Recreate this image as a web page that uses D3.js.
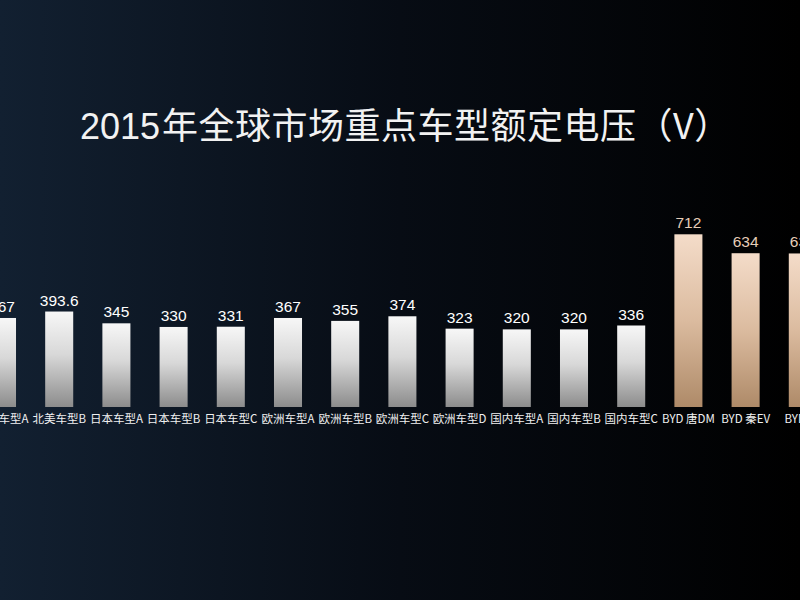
<!DOCTYPE html>
<html>
<head>
<meta charset="utf-8">
<script src="https://cdn.jsdelivr.net/npm/d3@7"></script>
<style>
  html, body { margin: 0; padding: 0; background: #000; }
  svg { display: block; }
</style>
</head>
<body>
<div id="chart"></div>
<script>
// chart data
const categories = ["北美车型A", "北美车型B", "日本车型A", "日本车型B", "日本车型C",
  "欧洲车型A", "欧洲车型B", "欧洲车型C", "欧洲车型D", "国内车型A", "国内车型B",
  "国内车型C", "BYD 唐DM", "BYD 秦EV", "BYD e5"];
const voltages = [367, 393.6, 345, 330, 331, 367, 355, 374, 323, 320, 320, 336, 712, 634, 633];
const valueLabels = ["367", "393.6", "345", "330", "331", "367", "355", "374", "323", "320", "320", "336", "712", "634", "633"];
const titleYear = "2015";
const titleRest = "年全球市场重点车型额定电压（V）";

const width = 800, height = 600;
const baseY = 407;
const step = 57.2;

const data = categories.map((c, i) => ({name: c, value: voltages[i], label: valueLabels[i], byd: c.startsWith("BYD")}));

const svg = d3.select("#chart").append("svg")
  .attr("width", width)
  .attr("height", height);

const defs = svg.append("defs");

const bg = defs.append("linearGradient").attr("id", "bgGrad")
  .attr("x1", "0%").attr("y1", "0%").attr("x2", "100%").attr("y2", "0%");
bg.append("stop").attr("offset", "0%").attr("stop-color", "#122031");
bg.append("stop").attr("offset", "50%").attr("stop-color", "#070c14");
bg.append("stop").attr("offset", "100%").attr("stop-color", "#000000");

const whiteGrad = defs.append("linearGradient").attr("id", "whiteGrad")
  .attr("x1", "0%").attr("y1", "0%").attr("x2", "0%").attr("y2", "100%");
whiteGrad.append("stop").attr("offset", "0%").attr("stop-color", "#f7f7f7");
whiteGrad.append("stop").attr("offset", "45%").attr("stop-color", "#d8d8d8");
whiteGrad.append("stop").attr("offset", "100%").attr("stop-color", "#8c8c8c");

const goldGrad = defs.append("linearGradient").attr("id", "goldGrad")
  .attr("x1", "0%").attr("y1", "0%").attr("x2", "0%").attr("y2", "100%");
goldGrad.append("stop").attr("offset", "0%").attr("stop-color", "#f4dcc9");
goldGrad.append("stop").attr("offset", "50%").attr("stop-color", "#dbbb9f");
goldGrad.append("stop").attr("offset", "100%").attr("stop-color", "#ae8a68");

svg.append("rect")
  .attr("width", width).attr("height", height)
  .attr("fill", "url(#bgGrad)");

// title: condensed digits, CJK after
const title = svg.append("text")
  .attr("x", 80)
  .attr("y", 139)
  .attr("fill", "#f2f2f2")
  .attr("font-size", 36);
title.append("tspan")
  .attr("font-family", "'Liberation Sans Narrow', 'Liberation Sans', sans-serif")
  .text(titleYear);
title.append("tspan")
  .attr("dx", 2)
  .attr("font-family", "'Noto Sans CJK SC', sans-serif")
  .attr("letter-spacing", 0.5)
  .text(titleRest);

// scales
const x0 = 2 - step / 2;
const xScale = d3.scaleBand()
  .domain(categories)
  .range([x0, x0 + step * categories.length])
  .paddingInner(0.51)
  .paddingOuter(0.255);

const yScale = d3.scaleLinear()
  .domain([0, 712])
  .range([baseY, 234.3]);

// bars
svg.selectAll(".bar")
  .data(data)
  .join("rect")
  .attr("class", "bar")
  .attr("x", d => xScale(d.name))
  .attr("y", d => yScale(d.value))
  .attr("width", xScale.bandwidth())
  .attr("height", d => baseY - yScale(d.value))
  .attr("fill", d => d.byd ? "url(#goldGrad)" : "url(#whiteGrad)");

// value labels
svg.selectAll(".valLabel")
  .data(data)
  .join("text")
  .attr("class", "valLabel")
  .attr("x", d => xScale(d.name) + xScale.bandwidth() / 2)
  .attr("y", d => yScale(d.value) - 6)
  .attr("text-anchor", "middle")
  .attr("font-family", "'Liberation Sans', Arial, sans-serif")
  .attr("font-size", 15.5)
  .attr("fill", d => d.byd ? "#e6cdb8" : "#ffffff")
  .text(d => d.label);

// category labels
svg.selectAll(".catLabel")
  .data(data)
  .join("text")
  .attr("class", "catLabel")
  .attr("x", d => xScale(d.name) + xScale.bandwidth() / 2)
  .attr("y", baseY + 16)
  .attr("text-anchor", "middle")
  .attr("font-family", "'Noto Sans CJK SC', sans-serif")
  .attr("font-size", 11.5)
  .attr("fill", "#f0f0f0")
  .text(d => d.name);
</script>
</body>
</html>
